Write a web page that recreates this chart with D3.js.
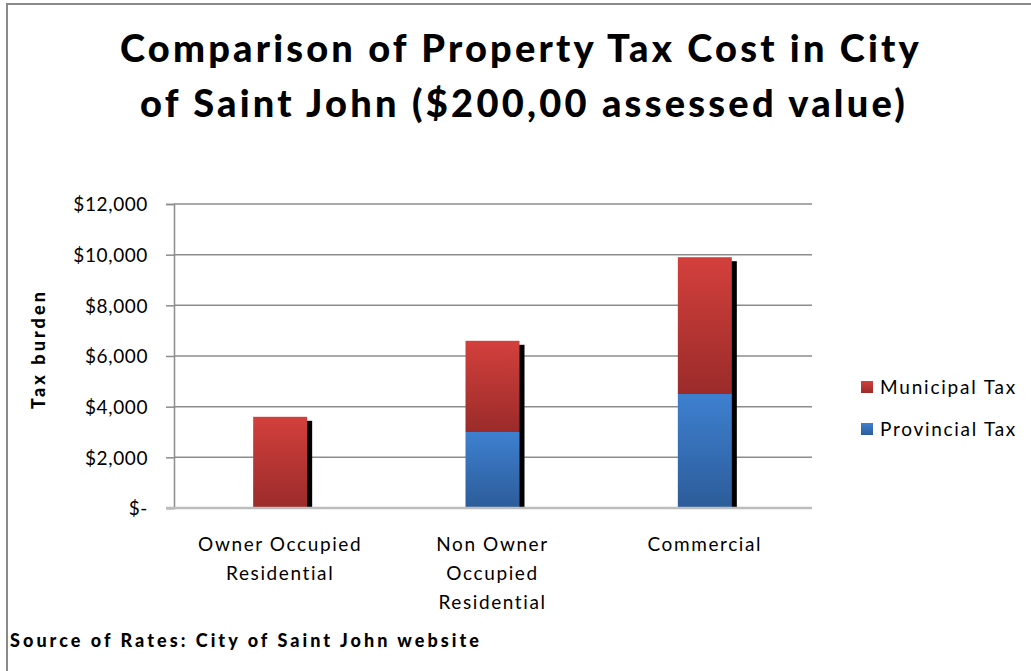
<!DOCTYPE html>
<html>
<head>
<meta charset="utf-8">
<script src="https://cdn.jsdelivr.net/npm/d3@7"></script>
<style>
  body { margin: 0; background: #fff; }
  svg { display: block; font-family: Lato, "Open Sans", sans-serif; }
</style>
</head>
<body>
<svg id="chart" width="1031" height="671"></svg>
<script>
const categories = [["Owner Occupied", "Residential"], ["Non Owner", "Occupied", "Residential"], ["Commercial"]];
const provincial = [0, 3000, 4500];
const municipal = [3600, 3600, 5400];
const seriesNames = ["Municipal Tax", "Provincial Tax"];
const yTicks = [0, 2000, 4000, 6000, 8000, 10000, 12000];

const svg = d3.select("#chart");
const width = 1031, height = 671;
const margin = {left: 174, right: 220, top: 204, bottom: 163};

// fit text to a target width by letter spacing
const fitWidth = (sel, target) => sel.each(function(d) {
  const s = typeof d === "string" ? d : this.textContent;
  const w = this.getComputedTextLength();
  d3.select(this).style("letter-spacing", ((target - w) / s.length) + "px");
});

// outer frame
svg.append("path")
    .attr("d", "M7,672 V4 H1032")
    .attr("fill", "none")
    .attr("stroke", "#8a8a8a")
    .attr("stroke-width", 2);

const defs = svg.append("defs");
const grad = (id, top, bottom) => {
  const g = defs.append("linearGradient").attr("id", id)
    .attr("x1", 0).attr("y1", 0).attr("x2", 0).attr("y2", 1);
  g.append("stop").attr("offset", "0%").attr("stop-color", top);
  g.append("stop").attr("offset", "100%").attr("stop-color", bottom);
};
grad("gRed", "#d3403c", "#9a2b2a");
grad("gBlue", "#3e80d0", "#2c5c99");

const x = d3.scaleBand()
    .domain(d3.range(categories.length))
    .range([margin.left, width - margin.right]);

const y = d3.scaleLinear()
    .domain([0, 12000])
    .range([height - margin.bottom, margin.top]);

// gridlines
svg.append("g")
  .selectAll("line")
  .data(yTicks.filter(d => d > 0))
  .join("line")
    .attr("x1", margin.left)
    .attr("x2", width - margin.right + 1)
    .attr("y1", d => y(d))
    .attr("y2", d => y(d))
    .attr("stroke", "#8c8c8c")
    .attr("stroke-width", 1.5);

// y axis
const yAxis = svg.append("g")
    .attr("transform", `translate(${margin.left},0)`)
    .call(d3.axisLeft(y).tickValues(yTicks).tickSize(8).tickPadding(18)
      .tickFormat(d => d === 0 ? "$-" : "$" + d3.format(",")(d)))
    .attr("font-family", null)
    .attr("font-size", null);
yAxis.select(".domain").attr("stroke", "#8c8c8c").attr("stroke-width", 1.5);
yAxis.selectAll(".tick line").attr("stroke", "#8c8c8c").attr("stroke-width", 1.5);
yAxis.selectAll(".tick text")
    .attr("fill", "#000")
    .style("font-size", "19px")
    .style("letter-spacing", "0.6px")
    .attr("dy", "0.36em");

const barW = 54;
const bx = i => x(i) + x.bandwidth() / 2 - barW / 2;

// shadows
svg.append("g")
  .selectAll("rect")
  .data(d3.range(categories.length))
  .join("rect")
    .attr("x", i => bx(i) + 5)
    .attr("y", i => y(provincial[i] + municipal[i]) + 4)
    .attr("width", barW)
    .attr("height", i => y(0) - y(provincial[i] + municipal[i]) - 4)
    .attr("fill", "#000");

// provincial
svg.append("g")
  .selectAll("rect")
  .data(d3.range(categories.length).filter(i => provincial[i] > 0))
  .join("rect")
    .attr("x", bx)
    .attr("y", i => y(provincial[i]))
    .attr("width", barW)
    .attr("height", i => y(0) - y(provincial[i]))
    .attr("fill", "url(#gBlue)");

// municipal
svg.append("g")
  .selectAll("rect")
  .data(d3.range(categories.length))
  .join("rect")
    .attr("x", bx)
    .attr("y", i => y(provincial[i] + municipal[i]))
    .attr("width", barW)
    .attr("height", i => y(provincial[i]) - y(provincial[i] + municipal[i]))
    .attr("fill", "url(#gRed)");

// baseline
svg.append("line")
    .attr("x1", margin.left - 8)
    .attr("x2", width - margin.right + 1)
    .attr("y1", y(0))
    .attr("y2", y(0))
    .attr("stroke", "#bdbdbd")
    .attr("stroke-width", 2.5);

// category labels
const cat = svg.append("g")
  .selectAll("text")
  .data(categories)
  .join("text")
    .attr("text-anchor", "middle")
    .attr("x", (d, i) => x(i) + x.bandwidth() / 2)
    .attr("y", 551)
    .style("font-size", "19px")
    .style("letter-spacing", "1.6px");
cat.selectAll("tspan")
  .data(d => d)
  .join("tspan")
    .attr("x", function() { return this.parentNode.getAttribute("x"); })
    .attr("dy", (d, i) => i === 0 ? 0 : 29)
    .text(d => d);

// y title
svg.append("text")
    .attr("transform", "translate(45,349) rotate(-90)")
    .attr("text-anchor", "middle")
    .style("font-size", "18px")
    .style("font-weight", "900")
    .text("Tax burden")
    .call(fitWidth, 120);

// legend
const legend = svg.append("g")
  .selectAll("g")
  .data(seriesNames)
  .join("g")
    .attr("transform", (d, i) => `translate(861,${381 + i * 42})`);
legend.append("rect")
    .attr("width", 12).attr("height", 12)
    .attr("fill", (d, i) => i === 0 ? "url(#gRed)" : "url(#gBlue)");
legend.append("text")
    .attr("x", 19).attr("y", 13)
    .style("font-size", "19px")
    .text(d => d)
    .call(fitWidth, 137);

// title
const titleLines = ["Comparison of Property Tax Cost in City", "of Saint John ($200,00 assessed value)"];
const titleWidths = [802, 768];
svg.append("g")
  .selectAll("text")
  .data(titleLines)
  .join("text")
    .attr("x", (d, i) => [521, 524][i])
    .attr("y", (d, i) => 62 + i * 55)
    .attr("text-anchor", "middle")
    .style("font-size", "38px")
    .style("font-weight", "900")
    .text(d => d)
    .each(function(d, i) {
      const w = this.getComputedTextLength();
      d3.select(this).style("letter-spacing", ((titleWidths[i] - w) / d.length) + "px");
    });

// source
svg.append("text")
    .attr("x", 10)
    .attr("y", 647)
    .style("font-size", "18px")
    .style("font-weight", "900")
    .text("Source of Rates: City of Saint John website")
    .call(fitWidth, 472);
</script>
</body>
</html>
